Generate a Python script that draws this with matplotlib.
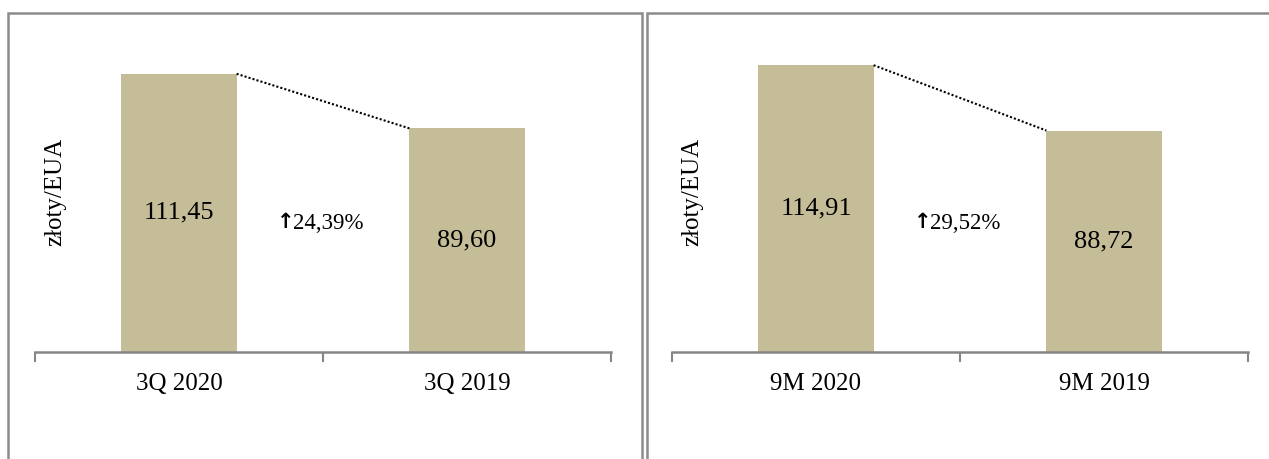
import matplotlib
matplotlib.use("Agg")
import matplotlib.pyplot as plt
from matplotlib.patches import Rectangle

# data
labels_q = ["3Q 2020", "3Q 2019"]
values_q = [111.45, 89.60]
change_q = "24,39%"

labels_m = ["9M 2020", "9M 2019"]
values_m = [114.91, 88.72]
change_m = "29,52%"

y_label = "złoty/EUA"
bar_color = "#C4BD97"
axis_color = "#868686"

plt.rcParams['font.family'] = ['Liberation Serif', 'DejaVu Sans']


def fmt(v):
  return "{:.2f}".format(v).replace(".", ",")


def draw_panel(ax, labels, values, change):
  x = list(range(len(values)))
  width = 0.4
  ax.bar(x, values, width=width, color=bar_color, zorder=2)
  for xi, v in zip(x, values):
    ax.text(xi, v / 2, fmt(v), ha='center', va='center', fontsize=19)

  # dotted connector between bar tops
  ax.plot([x[0] + width / 2, x[1] - width / 2], [values[0], values[1]],
          linestyle=(0, (1, 1)), color='black', lw=1.5, zorder=3)

  # change label, arrow drawn separately in bold
  num = ax.annotate(change, xy=(0.5, 51.5), xytext=(4, 0), textcoords='offset points',
                    ha='center', va='center', fontsize=16.5)

  ax.set_xlim(-0.5, len(values) - 0.5)
  ax.set_ylim(0, 125)
  ax.set_xticks(x)
  ax.set_xticklabels(labels, fontsize=18)
  ax.set_xticks([-0.5, 0.5, 1.5], minor=True)
  ax.tick_params(axis='x', which='major', length=0, pad=15)
  ax.tick_params(axis='x', which='minor', length=7, width=1.5,
                 color=axis_color, direction='out')
  ax.set_yticks([])
  for s in ['top', 'right', 'left']:
    ax.spines[s].set_visible(False)
  ax.spines['bottom'].set_color(axis_color)
  ax.spines['bottom'].set_linewidth(1.8)
  ax.text(0.036, 0.513, y_label, transform=ax.transAxes, rotation=90,
          ha='center', va='center', fontsize=18)
  return num


fig = plt.figure(figsize=(12.69, 4.59), dpi=100)
W, H = 1269.0, 459.0

ax1 = fig.add_axes([35 / W, 107 / H, 576 / W, 312 / H])
ax2 = fig.add_axes([672 / W, 107 / H, 576 / W, 312 / H])

nums = [draw_panel(ax1, labels_q, values_q, change_q),
        draw_panel(ax2, labels_m, values_m, change_m)]

fig.canvas.draw()
for t in nums:
  bb = t.get_window_extent()
  fig.text(bb.x0 + 1, (bb.y0 + bb.y1) / 2 + 1, "\u2191", transform=None,
           ha='right', va='center', fontsize=15, fontweight='bold',
           family='DejaVu Sans')

# panel frames (they run off the bottom / right edge)
for x0, x1 in [(8, 642), (647, 1300)]:
  fig.patches.append(Rectangle((x0 / W, -0.1), (x1 - x0) / W, (H - 13) / H + 0.1,
                               transform=fig.transFigure, fill=False,
                               edgecolor='#8c8c8c', lw=1.8, clip_on=False))

fig.savefig("out.png", dpi=100)
